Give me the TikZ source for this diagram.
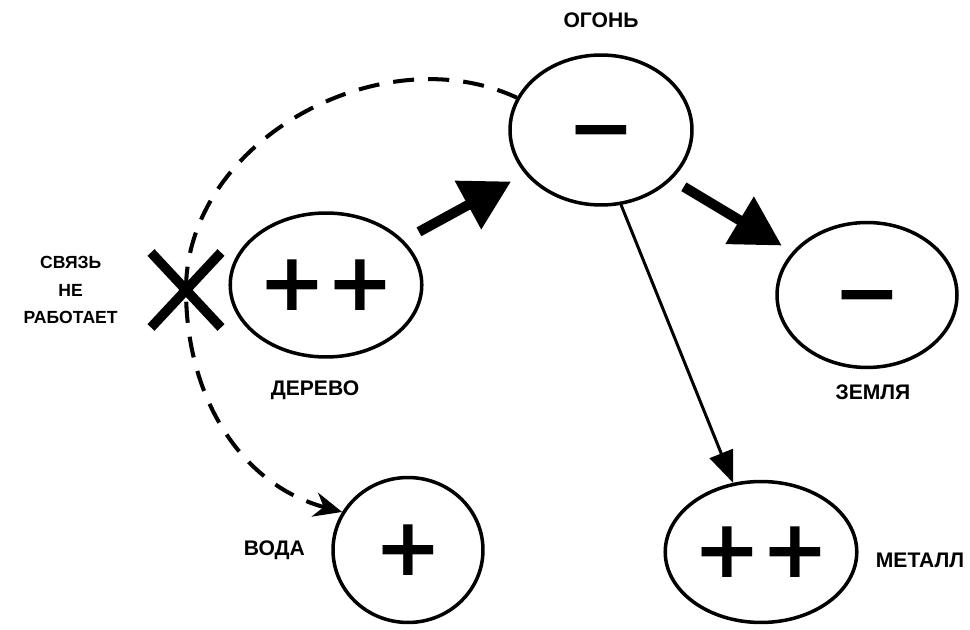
\documentclass[tikz,border=0pt]{standalone}
\usepackage{fontspec}
\setmainfont{Liberation Sans}
\newfontfamily\signfont{DejaVu Sans}
\usetikzlibrary{shapes.geometric,shapes.misc,positioning,arrows.meta}
\newcommand\signs{\signfont\bfseries\fontsize{46}{50}\selectfont}

\begin{document}
\begin{tikzpicture}[x=0.02cm,y=0.02cm,
    element/.style={ellipse,draw,line width=2pt,inner sep=0pt,font=\signs,text height=29pt,text depth=0pt},
    tag/.style={inner sep=0pt,font=\bfseries\fontsize{12}{15}\selectfont},
    push/.style={line width=5.7pt,-{Triangle[length=28pt,width=30pt]}},
    feed/.style={line width=1.7pt,-{Triangle[length=18pt,width=14pt]}}]
    \useasboundingbox(0,0)rectangle(970,629);
    \node[element,minimum width=3.64cm,minimum height=3cm](fire)at(601,499){−};
    \node[element,minimum width=3.44cm,minimum height=2.88cm](wood)at(326,344){++};
    \node[element,minimum width=3.6cm,minimum height=2.9cm](earth)at(867,334){−};
    \node[element,minimum width=3cm,minimum height=2.9cm](water)at(408,79){+};
    \node[element,minimum width=3.56cm,minimum height=2.82cm](metal)at(761,77){++};
    \node[cross out,draw,line width=5.5pt,outer sep=0pt,minimum width=1.4cm,minimum height=1.5cm](broken)at(186,339){};
    \node[tag,above=0.5cm of fire](firel){ОГОНЬ};
    \node[tag,below=0.44cm of wood,xshift=-0.22cm](woodl){ДЕРЕВО};
    \node[tag,below=0.3cm of earth,xshift=0.12cm](earthl){ЗЕМЛЯ};
    \node[tag,left=0.52cm of water](waterl){ВОДА};
    \node[tag,right=0.34cm of metal,yshift=-0.16cm](metall){МЕТАЛЛ};
    \node[tag,align=center,font=\bfseries\fontsize{10}{15.5}\selectfont,left=0.66cm of broken](brokenl){СВЯЗЬ\\НЕ\\РАБОТАЕТ};
    \draw[push,shorten <=10pt,shorten >=9pt](wood.30)--(fire.210);
    \draw[push,shorten <=8pt,shorten >=7pt](fire.-35)--(earth.150);
    \draw[feed](fire.-75)--(metal.112);
    \draw[line width=2.3pt,dash pattern=on 12pt off 8pt,-{Stealth[length=16pt,width=14pt]}]
      (fire.159)to[out=155,in=90](broken.center)to[out=-90,in=165](water.150);
\end{tikzpicture}
\end{document}
